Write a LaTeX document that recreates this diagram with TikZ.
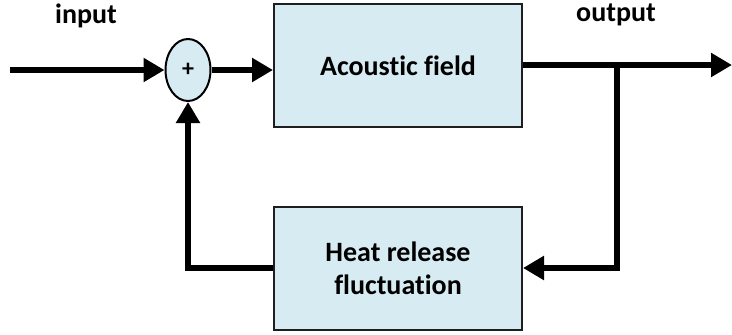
\documentclass[tikz,border=0pt]{standalone}
\usepackage{fontspec}
\setmainfont{Carlito}[Ligatures=NoCommon]
\usetikzlibrary{arrows.meta,shapes.geometric}
\definecolor{boxfill}{RGB}{214,236,242}
\definecolor{boxline}{RGB}{30,30,30}
\begin{document}
\begin{tikzpicture}[x=1pt,y=-1pt,
  block/.style={draw=boxline,line width=2pt,fill=boxfill,minimum width=248pt,
    minimum height=123pt,inner sep=0pt,font=\bfseries\fontsize{28}{33}\selectfont,align=center},
  summer/.style={ellipse,draw=black,line width=2pt,fill=boxfill,minimum width=45pt,
    minimum height=62pt,inner sep=0pt,font=\bfseries\fontsize{24}{24}\selectfont},
  signal/.style={line width=5.5pt,-{Triangle[length=21pt,width=23pt]}},
  wire/.style={line width=5.5pt},
  label/.style={font=\bfseries\fontsize{28}{28}\selectfont}]
\useasboundingbox (0,0) rectangle (732,335);
% blocks
\node[block] (acoustic) at (398,65.5) {Acoustic field};
\node[block] (heat) at (398,268.5) {Heat release\\fluctuation};
\node[summer] (sum) at (188,70) {+};
% labels
\node[label] (inlabel) at (86,16) {input};
\node[label] (outlabel) at (616,15) {output};
% free ends and corners
\coordinate (start) at (10,70);
\coordinate (outend) at (732,65);
\coordinate (branch) at (617,65);
\coordinate (downcorner) at (617,268);
\coordinate (fbcorner) at (188,268);
% forward path
\draw[signal] (start) -- (sum.west);
\draw[signal] (sum.east) -- (sum.east -| acoustic.west);
\draw[signal] (acoustic.east |- outend) -- (outend);
% feedback path
\draw[wire,line join=miter] (branch) -- (downcorner) -- ++(2.75,0);
\draw[signal] (downcorner) -- (heat.east |- downcorner);
\draw[signal,line join=miter] (heat.west |- fbcorner) -- (fbcorner) -- (sum.south);
\end{tikzpicture}
\end{document}
